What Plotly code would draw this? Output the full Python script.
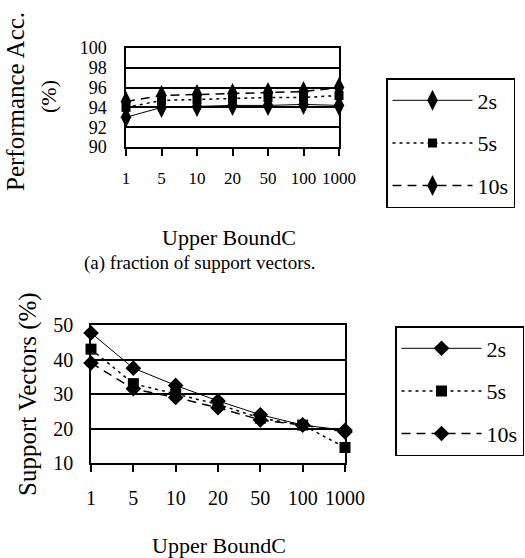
import plotly.graph_objects as go

# ---- data ----
categories = ["1", "5", "10", "20", "50", "100", "1000"]
series_names = ["2s", "5s", "10s"]

acc_2s = [93.0, 94.0, 94.1, 94.2, 94.2, 94.3, 94.2]
acc_5s = [94.0, 94.7, 94.8, 94.9, 95.0, 95.0, 95.2]
acc_10s = [94.6, 95.2, 95.3, 95.4, 95.5, 95.6, 96.0]

sv_2s = [47.7, 37.5, 32.5, 28.0, 24.0, 21.0, 19.5]
sv_5s = [43.0, 33.0, 30.0, 27.0, 23.0, 21.0, 14.5]
sv_10s = [39.0, 31.5, 29.0, 26.0, 22.5, 21.0, 19.0]

y_ticks_acc = [90, 92, 94, 96, 98, 100]
y_ticks_sv = [10, 20, 30, 40, 50]

FONT = "Liberation Serif"
W, H = 525, 558

def px(x):
    return x / W

def py(y):
    return 1 - y / H

fig = go.Figure()

styles = [
    dict(dash="solid", width=1, symbol_top="diamond-tall", symbol_bot="diamond", size_top=15, size_bot=12),
    dict(dash="3px,4px", width=1.5, symbol_top="square", symbol_bot="square", size_top=9, size_bot=11),
    dict(dash="9px,6px", width=1.5, symbol_top="diamond-tall", symbol_bot="diamond", size_top=15, size_bot=12),
]

for name, vals, st in zip(series_names, [acc_2s, acc_5s, acc_10s], styles):
    fig.add_trace(go.Scatter(
        x=categories, y=vals, name=name, mode="lines+markers",
        line=dict(color="black", dash=st["dash"], width=st["width"]),
        marker=dict(symbol=st["symbol_top"], size=st["size_top"], color="black"),
        xaxis="x", yaxis="y", legend="legend", legendgroup="a" + name,
        cliponaxis=False,
    ))

for name, vals, st in zip(series_names, [sv_2s, sv_5s, sv_10s], styles):
    fig.add_trace(go.Scatter(
        x=categories, y=vals, name=name, mode="lines+markers",
        line=dict(color="black", dash=st["dash"], width=st["width"]),
        marker=dict(symbol=st["symbol_bot"], size=st["size_bot"], color="black"),
        xaxis="x2", yaxis="y2", legend="legend2", legendgroup="b" + name,
        cliponaxis=False,
    ))

common_x = dict(
    type="category", range=[0, 6], showline=True, linecolor="black", linewidth=1.5,
    mirror=True, ticks="outside", ticklen=7, tickwidth=1.5, tickcolor="black",
    showgrid=False, zeroline=False, tickangle=0, automargin=False,
)
common_y = dict(
    showline=True, linecolor="black", linewidth=1.5, mirror=True,
    showgrid=True, gridcolor="black", gridwidth=1.5, ticks="",
    zeroline=False, automargin=False,
)

legend_common = dict(
    xref="container", yref="container", xanchor="left", yanchor="top",
    bordercolor="black", borderwidth=1.5, bgcolor="white",
    font=dict(family=FONT, size=22, color="black"),
    itemwidth=80, tracegroupgap=11, traceorder="grouped",
)

fig.update_layout(
    width=W, height=H, margin=dict(l=0, r=0, t=0, b=0, autoexpand=False),
    paper_bgcolor="white", plot_bgcolor="white",
    showlegend=True,
    xaxis=dict(domain=[px(126), px(339)], anchor="y", ticklabelstandoff=8,
               tickfont=dict(family=FONT, size=17, color="black"), **common_x),
    yaxis=dict(domain=[py(147), py(48)], anchor="x", range=[90, 100],
               tickvals=y_ticks_acc, ticklabelstandoff=14,
               tickfont=dict(family=FONT, size=18, color="black"), **common_y),
    xaxis2=dict(domain=[px(91), px(345)], anchor="y2", ticklabelstandoff=9,
                tickfont=dict(family=FONT, size=20, color="black"), **common_x),
    yaxis2=dict(domain=[py(463), py(325)], anchor="x2", range=[10, 50],
                tickvals=y_ticks_sv, ticklabelstandoff=12,
                tickfont=dict(family=FONT, size=20, color="black"), **common_y),
    legend=dict(x=px(386), y=py(78), **legend_common),
    legend2=dict(x=px(395), y=py(326), **legend_common),
)

annos = [
    dict(text="Performance Acc.", x=px(15), y=py(102), textangle=-90, size=25),
    dict(text="(%)", x=px(48), y=py(97), textangle=-90, size=22),
    dict(text="Upper BoundC", x=px(229), y=py(237), textangle=0, size=22),
    dict(text="(a) fraction of support vectors.", x=px(200), y=py(263), textangle=0, size=19),
    dict(text="Support Vectors (%)", x=px(28), y=py(394), textangle=-90, size=25),
    dict(text="Upper BoundC", x=px(219), y=py(545), textangle=0, size=22),
]
for a in annos:
    fig.add_annotation(
        text=a["text"], x=a["x"], y=a["y"], xref="paper", yref="paper",
        xanchor="center", yanchor="middle", showarrow=False, textangle=a["textangle"],
        font=dict(family=FONT, size=a["size"], color="black"),
    )

fig.write_html(
    "out.html",
    config={"displayModeBar": False},
    post_script="document.body.style.margin='0';document.body.style.overflow='hidden';",
)
